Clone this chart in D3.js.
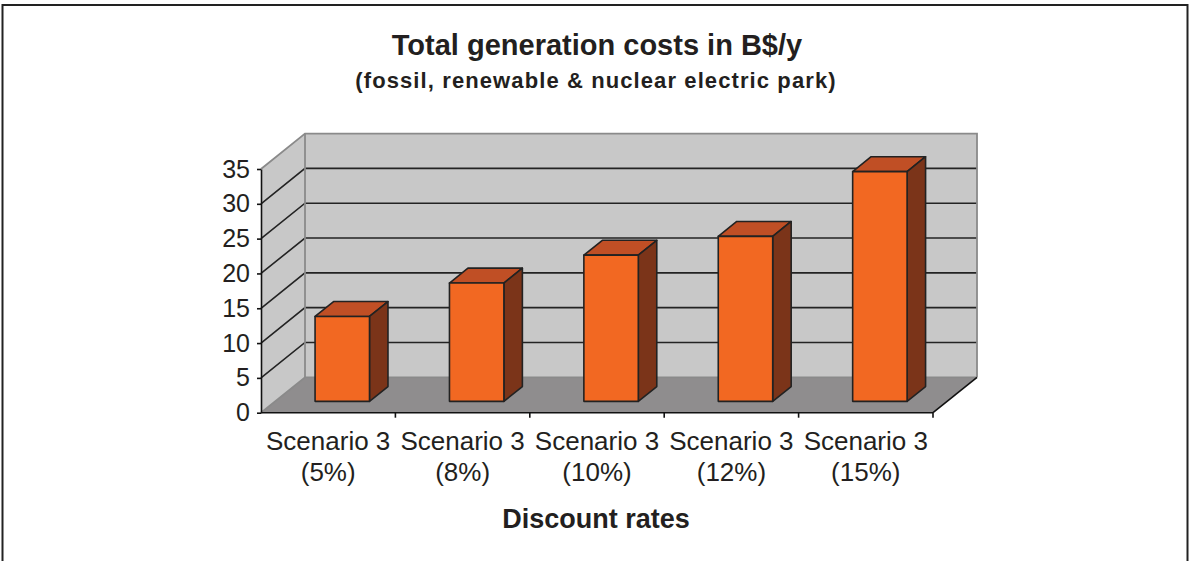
<!DOCTYPE html>
<html>
<head>
<meta charset="utf-8">
<script src="https://cdn.jsdelivr.net/npm/d3@7"></script>
<style>
  html, body { margin: 0; padding: 0; background: #fff; }
  svg { display: block; font-family: Arial, 'Liberation Sans', sans-serif; }
</style>
</head>
<body>
<div id="chart"></div>
<script>
// Total generation costs per discount rate (B$/y)
const categories = ['Scenario 3 (5%)', 'Scenario 3 (8%)', 'Scenario 3 (10%)', 'Scenario 3 (12%)', 'Scenario 3 (15%)'];
const costs = [12.2, 17.0, 21.0, 23.7, 33.0];
const yTicks = [0, 5, 10, 15, 20, 25, 30, 35];

const W = 1189, H = 561;

// plot box (front plane) and 3D depth offset
const X0 = 261, X1 = 933;
const Y0 = 412.7, YTOP = 169;
const DX = 44, DY = 35.4;
const BAR_Z0 = 0.32, BAR_Z1 = 0.74;

const COLORS = {
  wall:  '#c8c8c8',
  floor: '#8f8d8e',
  edge:  '#8a8a8a',
  grid:  '#232323',
  front: '#f26822',
  top:   '#c04f25',
  side:  '#7b3419',
};

const svg = d3.select('#chart').append('svg')
  .attr('width', W)
  .attr('height', H);

// outer frame
svg.append('rect')
  .attr('x', 2.5).attr('y', 5)
  .attr('width', W - 4).attr('height', H + 10)
  .attr('fill', 'none')
  .attr('stroke', '#222')
  .attr('stroke-width', 2);

const x = d3.scaleBand().domain(categories).range([X0, X1]).padding(0);
const y = d3.scaleLinear().domain([0, 35]).range([Y0, YTOP]);
const barW = x.bandwidth() * 0.405;

// project a point at depth z (0 = front, 1 = back)
const P = (px, py, z) => [px + z * DX, py - z * DY];
const poly = pts => pts.map(p => p.join(',')).join(' ');

// side wall and back wall
svg.append('polygon')
  .attr('points', poly([P(X0, Y0, 0), P(X0, Y0, 1), P(X0, YTOP, 1), P(X0, YTOP, 0)]))
  .attr('fill', COLORS.wall);
svg.append('polygon')
  .attr('points', poly([P(X0, Y0, 1), P(X1, Y0, 1), P(X1, YTOP, 1), P(X0, YTOP, 1)]))
  .attr('fill', COLORS.wall);

// floor
svg.append('polygon')
  .attr('points', poly([P(X0, Y0, 0), P(X0, Y0, 1), P(X1, Y0, 1), P(X1, Y0, 0)]))
  .attr('fill', COLORS.floor);

// gridlines (back wall + diagonals on side wall)
const inner = yTicks.filter(t => t > 0 && t < 35);
const grid = svg.append('g').attr('stroke', COLORS.grid).attr('stroke-width', 1.6);
inner.forEach(t => {
  const a = P(X0, y(t), 0), b = P(X0, y(t), 1), c = P(X1, y(t), 1);
  grid.append('polyline')
    .attr('points', poly([a, b, c]))
    .attr('fill', 'none');
});

// wall outlines
const edges = svg.append('g').attr('stroke', COLORS.edge).attr('stroke-width', 1.8).attr('fill', 'none');
edges.append('polyline').attr('points', poly([P(X0, YTOP, 0), P(X0, YTOP, 1), P(X1, YTOP, 1), P(X1, Y0, 1)]));
edges.append('line')
  .attr('x1', P(X0, YTOP, 1)[0]).attr('y1', P(X0, YTOP, 1)[1])
  .attr('x2', P(X0, Y0, 1)[0]).attr('y2', P(X0, Y0, 1)[1]);
edges.append('polyline').attr('points', poly([P(X0, Y0, 0), P(X0, Y0, 1), P(X1, Y0, 1)]));

// floor right edge
svg.append('line')
  .attr('x1', X1).attr('y1', Y0)
  .attr('x2', P(X1, Y0, 1)[0]).attr('y2', P(X1, Y0, 1)[1])
  .attr('stroke', '#111').attr('stroke-width', 1.6);

// bars
const bars = svg.append('g')
  .attr('stroke', '#222')
  .attr('stroke-width', 1.6)
  .attr('stroke-linejoin', 'round');

categories.forEach((c, i) => {
  const bx0 = x(c) + (x.bandwidth() - barW) / 2;
  const bx1 = bx0 + barW;
  const yt = y(costs[i]);
  const g = bars.append('g');
  g.append('polygon')
    .attr('points', poly([P(bx0, yt, BAR_Z0), P(bx1, yt, BAR_Z0), P(bx1, yt, BAR_Z1), P(bx0, yt, BAR_Z1)]))
    .attr('fill', COLORS.top);
  g.append('polygon')
    .attr('points', poly([P(bx1, Y0, BAR_Z0), P(bx1, Y0, BAR_Z1), P(bx1, yt, BAR_Z1), P(bx1, yt, BAR_Z0)]))
    .attr('fill', COLORS.side);
  g.append('polygon')
    .attr('points', poly([P(bx0, Y0, BAR_Z0), P(bx1, Y0, BAR_Z0), P(bx1, yt, BAR_Z0), P(bx0, yt, BAR_Z0)]))
    .attr('fill', COLORS.front);
});

// y axis
const yAxis = svg.append('g')
  .attr('transform', `translate(${X0},0)`)
  .call(d3.axisLeft(y).tickValues(yTicks).tickSize(4).tickSizeOuter(0).tickPadding(7));
yAxis.select('.domain').attr('stroke', '#111').attr('stroke-width', 1.6);
yAxis.selectAll('.tick line').attr('stroke', '#111').attr('stroke-width', 1.6);
yAxis.selectAll('.tick text')
  .attr('font-size', 25)
  .attr('font-family', "Arial, 'Liberation Sans', sans-serif")
  .attr('fill', '#231f20');

// x axis line with boundary ticks
const xAxis = svg.append('g').attr('stroke', '#111').attr('stroke-width', 1.6);
xAxis.append('line').attr('x1', X0).attr('x2', X1).attr('y1', Y0).attr('y2', Y0);
categories.concat([null]).forEach((c, i) => {
  const tx = c === null ? x.range()[1] : x(c);
  if (i === 0) return;
  xAxis.append('line').attr('x1', tx).attr('x2', tx).attr('y1', Y0).attr('y2', Y0 + 5);
});

// category labels (two lines)
const labels = svg.append('g')
  .attr('font-size', 26)
  .attr('fill', '#231f20')
  .attr('text-anchor', 'middle');
categories.forEach(c => {
  const cut = c.indexOf(' (');
  const t = labels.append('text')
    .attr('x', x(c) + x.bandwidth() / 2)
    .attr('y', 450);
  t.append('tspan').text(c.slice(0, cut));
  t.append('tspan').attr('x', x(c) + x.bandwidth() / 2).attr('dy', 31).text(c.slice(cut + 1));
});

// titles
svg.append('text')
  .attr('x', 597).attr('y', 55)
  .attr('text-anchor', 'middle')
  .attr('font-size', 29).attr('font-weight', 'bold').attr('fill', '#231f20')
  .text('Total generation costs in B$/y');
svg.append('text')
  .attr('x', 596).attr('y', 88)
  .attr('text-anchor', 'middle')
  .attr('font-size', 22).attr('font-weight', 'bold').attr('fill', '#231f20')
  .attr('letter-spacing', 1.1)
  .text('(fossil, renewable & nuclear electric park)');
svg.append('text')
  .attr('x', 596).attr('y', 528)
  .attr('text-anchor', 'middle')
  .attr('font-size', 27).attr('font-weight', 'bold').attr('fill', '#231f20')
  .text('Discount rates');
</script>
</body>
</html>
